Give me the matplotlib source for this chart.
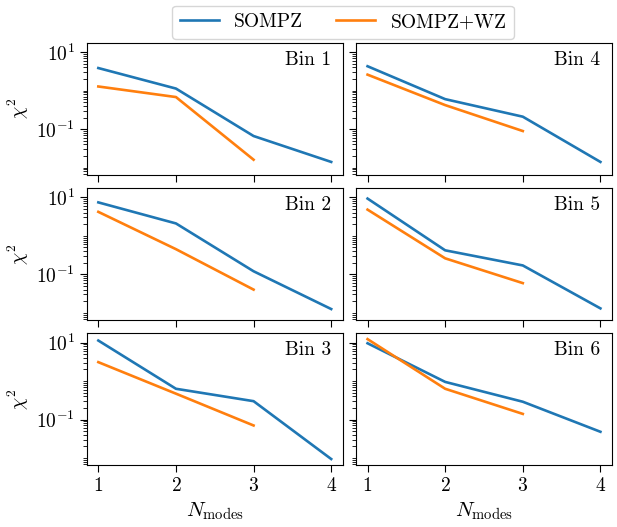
import matplotlib
matplotlib.use("Agg")
import matplotlib.pyplot as plt
from matplotlib.ticker import LogLocator, NullFormatter
import numpy as np

plt.rcParams['font.family'] = 'serif'
plt.rcParams['font.serif'] = ['cmr10']
plt.rcParams['mathtext.fontset'] = 'cm'
plt.rcParams['axes.formatter.use_mathtext'] = True
plt.rcParams['font.size'] = 14
plt.rcParams['xtick.major.size'] = 4.8
plt.rcParams['ytick.major.size'] = 4.8
plt.rcParams['ytick.minor.size'] = 2.8

n_modes = [1, 2, 3, 4]
n_modes_wz = [1, 2, 3]

# chi^2 per tomographic bin
chi2_sompz = {
    1: [3.86, 1.13, 0.066, 0.014],
    2: [7.4, 2.1, 0.12, 0.0125],
    3: [11.3, 0.63, 0.30, 0.0094],
    4: [4.3, 0.60, 0.21, 0.014],
    5: [9.3, 0.42, 0.17, 0.013],
    6: [9.6, 0.95, 0.29, 0.048],
}
chi2_sompz_wz = {
    1: [1.28, 0.68, 0.016],
    2: [4.2, 0.45, 0.040],
    3: [3.1, 0.47, 0.070],
    4: [2.6, 0.42, 0.089],
    5: [4.8, 0.26, 0.059],
    6: [12.3, 0.63, 0.14],
}

fig, axes = plt.subplots(3, 2, figsize=(6.17, 5.27), dpi=100,
                         sharex=True, sharey=True)
fig.subplots_adjust(left=0.1405, right=0.992, top=0.919, bottom=0.1176,
                    hspace=0.101, wspace=0.051)

for b in range(1, 7):
    ax = axes[(b - 1) % 3, (b - 1) // 3]
    ax.plot(n_modes, chi2_sompz[b], color='C0', lw=1.9, label='SOMPZ')
    ax.plot(n_modes_wz, chi2_sompz_wz[b], color='C1', lw=1.9, label='SOMPZ+WZ')
    ax.set_yscale('log')
    ax.text(0.955, 0.94, 'Bin %d' % b, transform=ax.transAxes,
            ha='right', va='top')

axes[0, 0].set_xticks(n_modes)
axes[0, 0].yaxis.set_minor_locator(LogLocator(base=10, subs=np.arange(1, 10),
                                              numticks=100))
axes[0, 0].yaxis.set_minor_formatter(NullFormatter())
for ax in axes[:, 0]:
    ax.set_ylabel(r'$\chi^2$')
for ax in axes[-1, :]:
    ax.set_xlabel(r'$N_{\rm modes}$', fontsize=15)

handles, labels = axes[0, 0].get_legend_handles_labels()
fig.legend(handles, labels, loc='upper center', ncol=2,
           bbox_to_anchor=(0.556, 1.008), columnspacing=1.7)

fig.savefig('out.png', dpi=100)
